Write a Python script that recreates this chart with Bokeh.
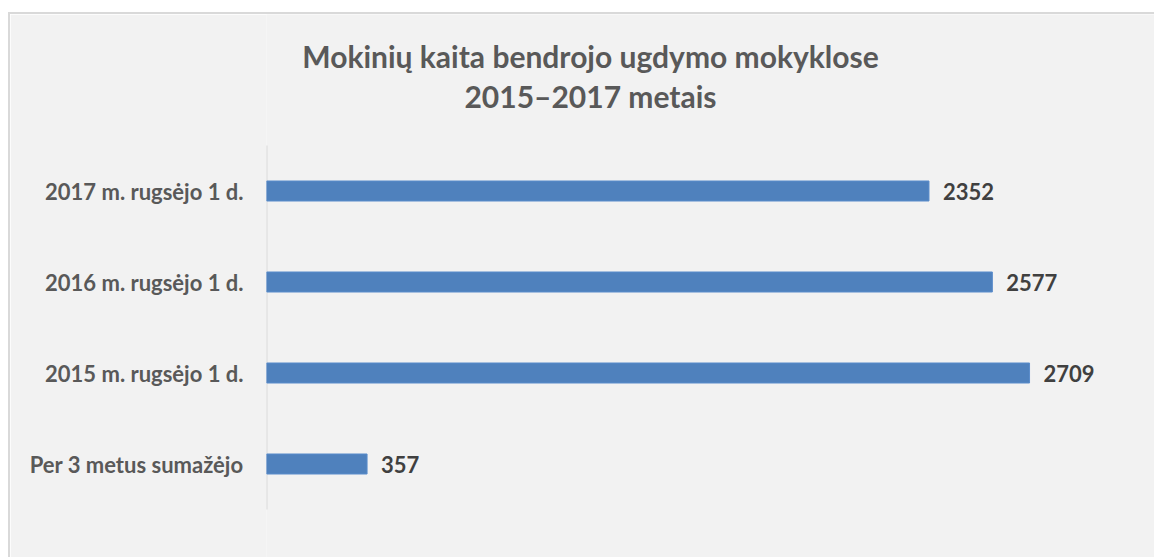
from bokeh.plotting import figure
from bokeh.models import ColumnDataSource, Range1d, LabelSet, Label, Spacer, FixedTicker
from bokeh.layouts import column, row
from bokeh.core.properties import value
from bokeh.embed import file_html
from bokeh.resources import INLINE

categories = ["Per 3 metus sumažėjo", "2015 m. rugsėjo 1 d.", "2016 m. rugsėjo 1 d.", "2017 m. rugsėjo 1 d."]
values = [357, 2709, 2577, 2352]
title_lines = ["Mokinių kaita bendrojo ugdymo mokyklose", "2015–2017 metais"]

n = len(categories)
pos = list(range(n))
src = ColumnDataSource(dict(y=pos, val=values, lab=[str(v) for v in values]))

# layout geometry (pixels)
W, H = 1146, 545
left_px, right_px, bottom_px = 256, 45, 50
head_px = 131            # room for the title inside the frame, above the bars
band_px = (H - bottom_px - head_px) / n
axis_max = 3000
px_per_unit = (W - left_px - right_px) / axis_max

# frame spans the whole canvas right of the labels (no visible frame seams)
x_end = (W - left_px) / px_per_unit
y_top = n - 0.5 + head_px / band_px
y_bot = -0.5 - bottom_px / band_px
p = figure(width=W, height=H, x_range=Range1d(0, x_end), y_range=Range1d(y_bot, y_top),
           output_backend="svg", toolbar_location=None,
           min_border_left=left_px, min_border_right=0, min_border_top=0, min_border_bottom=0,
           background_fill_color="#f2f2f2", border_fill_color="#f2f2f2",
           styles={"border-left": "2px solid #d9d9d9", "border-top": "2px solid #d9d9d9"})
p.outline_line_color = None
p.grid.visible = False
p.xaxis.visible = False

ax = p.yaxis[0]
ax.ticker = FixedTicker(ticks=pos)
ax.major_label_overrides = {i: c for i, c in zip(pos, categories)}
ax.axis_line_color = None
ax.major_tick_line_color = None
ax.minor_tick_line_color = None
ax.major_label_standoff = 17
ax.major_label_text_font = "Lato"
ax.major_label_text_font_style = "bold"
ax.major_label_text_font_size = "22px"
ax.major_label_text_color = "#595959"

# category axis line, only along the bar region
p.segment(x0=[0], y0=[-0.5], x1=[0], y1=[n - 0.5], line_color="#d9d9d9", line_width=2)

p.hbar(y="y", right="val", left=0, height=0.22, source=src,
       fill_color="#4f81bd", line_color="#5a8ccb")

p.add_layout(LabelSet(x="val", y="y", text="lab", source=src, x_offset=14,
                      text_baseline="middle", text_font=value("Lato"), text_font_style="bold",
                      text_font_size="22px", text_color="#404040"))

title_cx = 324 / px_per_unit
for line, dy in [(title_lines[0], 41), (title_lines[1], 81)]:
    p.add_layout(Label(x=title_cx, y=y_top - dy / band_px, text=line,
                       text_align="center", text_baseline="middle", text_font="Lato",
                       text_font_style="bold", text_font_size="30px", text_color="#595959"))

layout = column(Spacer(height=12), row(Spacer(width=8), p))
open("out.html", "w").write(file_html(layout, INLINE))
